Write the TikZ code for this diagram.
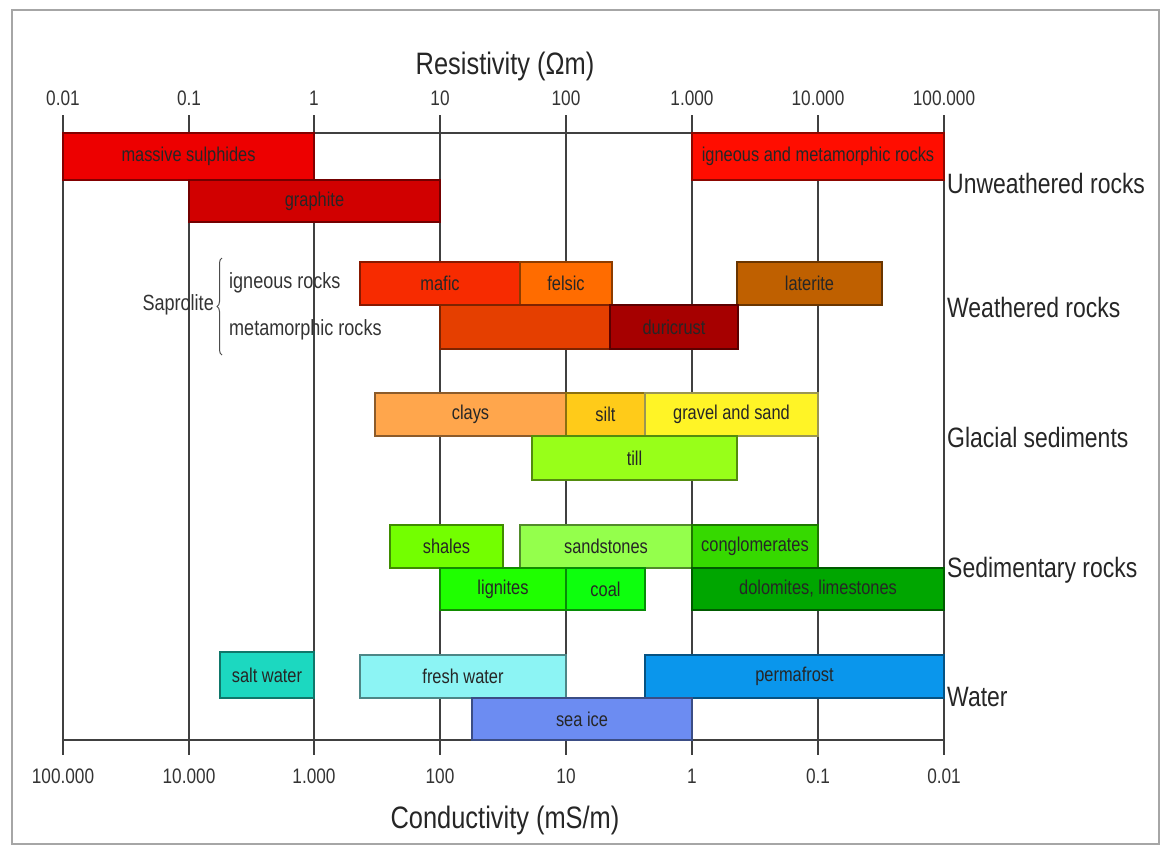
\documentclass[tikz,border=0pt]{standalone}
\usepackage{fontspec}
\setmainfont[FakeStretch=0.82]{Liberation Sans}
\usetikzlibrary{decorations.pathreplacing}
\definecolor{saltc}{HTML}{1CD8C0}
\definecolor{freshc}{HTML}{8CF4F4}
\definecolor{permac}{HTML}{0A96EC}
\definecolor{icec}{HTML}{6C8CF2}
\newcommand{\rockbar}[7]{%
  \node[rbar, fill=#6, draw=#6!55!black, minimum width={(#3-#2)*1pt}, minimum height={(#5-#4)*1pt}]
    (#1) at ({(#2+#3)/2},{(#4+#5)/2}) {#7};}
\begin{document}
\begin{tikzpicture}[x=1pt,y=-1pt,
  rbar/.style={rectangle, inner sep=0pt, outer sep=0pt, line width=2pt,
    font=\fontsize{20}{22}\selectfont, text=black!85},
  gridline/.style={draw=black!75, line width=2pt},
  ticklab/.style={font=\fontsize{21}{24}\selectfont, text=black!80},
  rowlab/.style={anchor=west, font=\fontsize{28}{30}\selectfont, text=black!85, inner sep=0pt},
  axtitle/.style={font=\fontsize{31}{34}\selectfont, text=black!85},
  sidelab/.style={font=\fontsize{22}{25}\selectfont, text=black!80, inner sep=0pt}]
\useasboundingbox (0,0) rectangle (1162,846);
\draw[black!35, line width=1.5pt] (12,10) rectangle (1159,844);
% grid lines
\foreach \i/\xx in {0/63,1/189,2/314,3/440,4/566,5/692,6/818,7/944}{
  \coordinate (gt\i) at (\xx,115);
  \coordinate (gb\i) at (\xx,755);
  \draw[gridline] (gt\i) -- (gb\i);
}
\coordinate (ta) at (63,133); \coordinate (tb) at (944,133);
\coordinate (ba) at (63,740); \coordinate (bb) at (944,740);
\draw[gridline] (ta) -- (tb);
\draw[gridline] (ba) -- (bb);
% axis labels
\node[axtitle] (restitle) at (505,66) {Resistivity (Ωm)};
\node[axtitle] (condtitle) at (505,820) {Conductivity (mS/m)};
\foreach \i/\xx/\lab in {0/63/0.01,1/189/0.1,2/314/1,3/440/10,4/566/100,5/692/1.000,6/818/10.000,7/944/100.000}{
  \node[ticklab] (rt\i) at (\xx,98) {\lab};
}
\foreach \i/\xx/\lab in {0/63/100.000,1/189/10.000,2/314/1.000,3/440/100,4/566/10,5/692/1,6/818/0.1,7/944/0.01}{
  \node[ticklab] (ct\i) at (\xx,776) {\lab};
}
% unweathered rocks
\rockbar{ms}{63}{314}{133}{180}{red!93!black}{massive sulphides}
\rockbar{gr}{189}{440}{180}{222}{red!82!black}{graphite}
\rockbar{im}{692}{944}{133}{180}{red!90!orange}{igneous and metamorphic rocks}
% weathered rocks
\rockbar{mafic}{360}{520}{262}{305}{orange!35!red!97!black}{mafic}
\rockbar{felsic}{520}{612}{262}{305}{orange!85!red}{felsic}
\rockbar{lat}{737}{882}{262}{305}{orange!75!black}{laterite}
\rockbar{meta}{440}{610}{305}{349}{orange!55!red!90!black}{}
\rockbar{duri}{610}{738}{305}{349}{red!65!black}{duricrust}
% glacial sediments
\rockbar{clays}{375}{566}{393}{436}{orange!70!white}{clays}
\rockbar{silt}{566}{645}{393}{436}{orange!45!yellow!90!white}{silt}
\rockbar{gravel}{645}{818}{393}{436}{yellow!85!white}{gravel and sand}
\rockbar{till}{532}{737}{436}{480}{green!45!yellow!90!white}{till}
% sedimentary rocks
\rockbar{shales}{390}{503}{525}{568}{green!55!yellow}{shales}
\rockbar{sand}{520}{692}{525}{568}{green!60!yellow!70!white}{sandstones}
\rockbar{cong}{692}{818}{525}{568}{green!75!yellow!85!black}{conglomerates}
\rockbar{lig}{440}{566}{568}{610}{green!88!yellow}{lignites}
\rockbar{coal}{566}{645}{568}{610}{green!95!white}{coal}
\rockbar{dolo}{692}{944}{568}{610}{green!65!black}{dolomites, limestones}
% water
\rockbar{salt}{220}{314}{652}{698}{saltc}{salt water}
\rockbar{fresh}{360}{566}{655}{698}{freshc}{fresh water}
\rockbar{perma}{645}{944}{655}{698}{permac}{permafrost}
\rockbar{seaice}{472}{692}{698}{740}{icec}{sea ice}
% row labels
\node[rowlab] (rl1) at (947,183) {Unweathered rocks};
\node[rowlab] (rl2) at (947,307) {Weathered rocks};
\node[rowlab] (rl3) at (947,437) {Glacial sediments};
\node[rowlab] (rl4) at (947,570) {Sedimentary rocks};
\node[rowlab] (rl5) at (947,697) {Water};
% saprolite
\node[sidelab, anchor=east] (sap) at (214,305) {Saprolite};
\coordinate (brb) at (222,355);
\coordinate (brt) at (222,258);
\draw[black!70, line width=1pt, decorate, decoration={brace, amplitude=5pt}] (brb) -- (brt);
\node[sidelab, anchor=west] (ign) at (229,283) {igneous rocks};
\node[sidelab, anchor=west] (met) at (229,330) {metamorphic rocks};
\end{tikzpicture}
\end{document}
